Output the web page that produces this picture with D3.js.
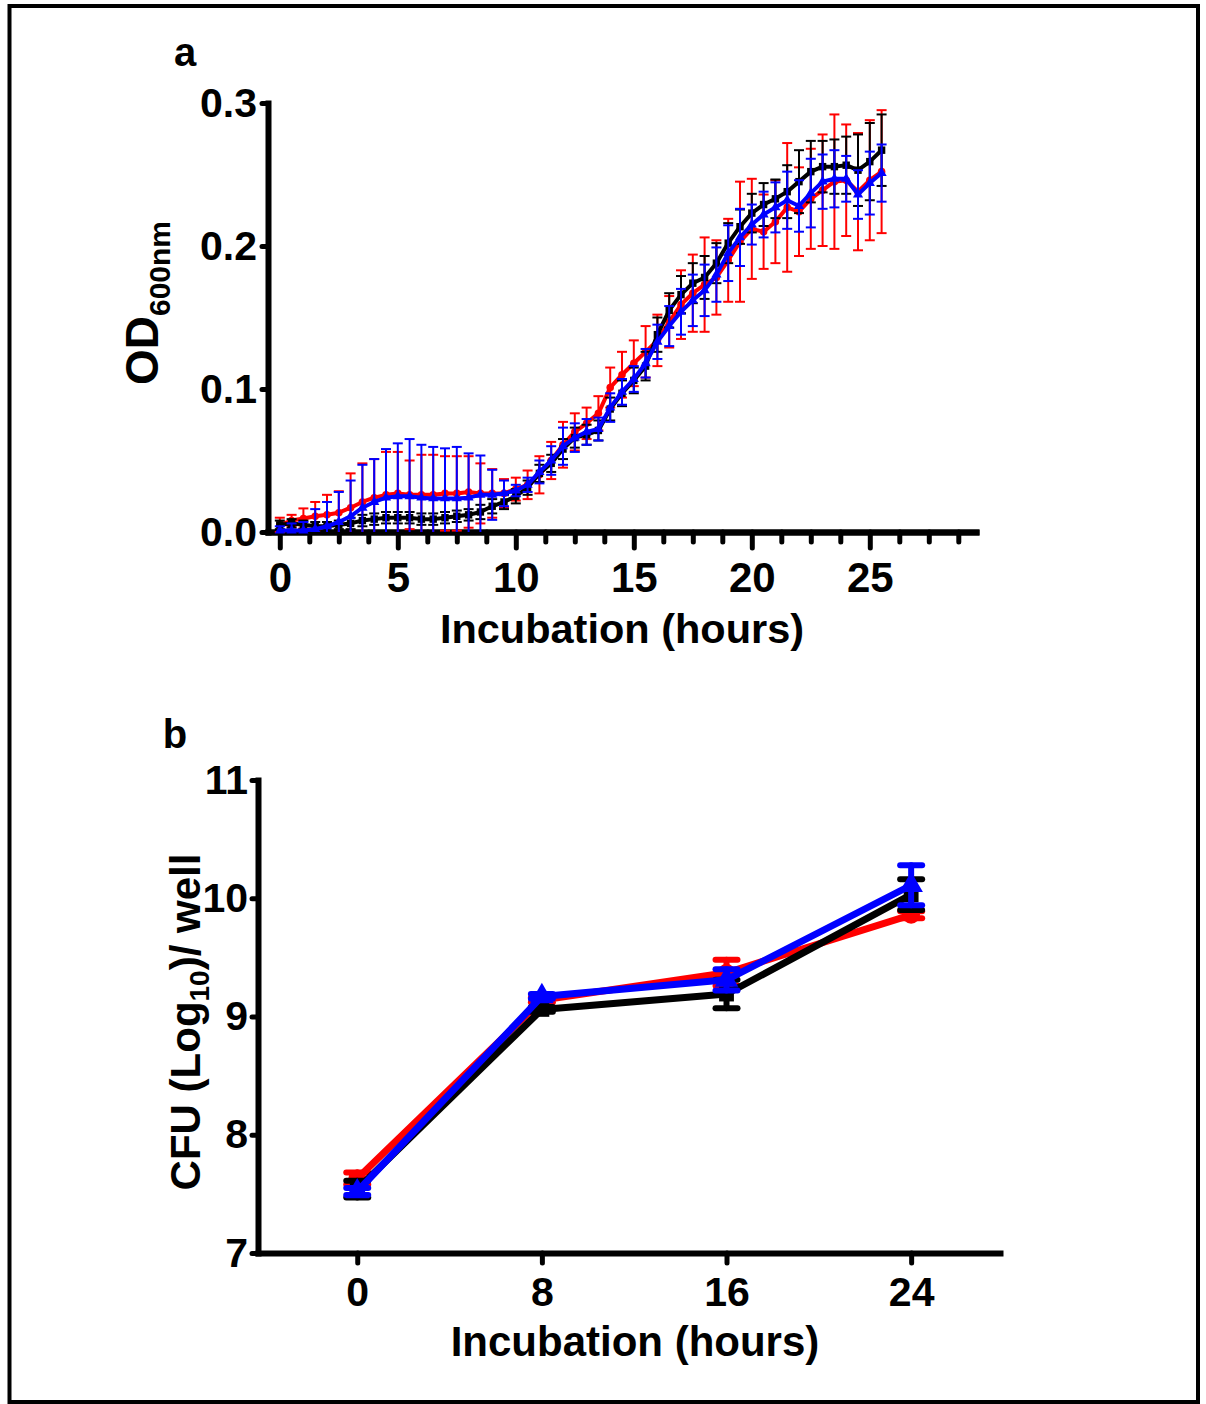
<!DOCTYPE html>
<html>
<head>
<meta charset="utf-8">
<script src="https://cdn.jsdelivr.net/npm/d3@7"></script>
<style>
  body { margin: 0; background: #fff; }
  svg text { font-family: "Liberation Sans", Arial, sans-serif; font-weight: bold; fill: #000; }
</style>
</head>
<body>
<svg id="fig" width="1206" height="1404"></svg>
<script>
// ---- panel a: OD600 readings every 30 min ----
const hoursA = [0, 0.5, 1, 1.5, 2, 2.5, 3, 3.5, 4, 4.5, 5, 5.5, 6, 6.5, 7, 7.5, 8, 8.5, 9, 9.5,
  10, 10.5, 11, 11.5, 12, 12.5, 13, 13.5, 14, 14.5, 15, 15.5, 16, 16.5, 17, 17.5, 18, 18.5, 19, 19.5,
  20, 20.5, 21, 21.5, 22, 22.5, 23, 23.5, 24, 24.5, 25, 25.5];

const redA = [0.005, 0.008, 0.0095, 0.011, 0.012, 0.0135, 0.017, 0.021, 0.024, 0.026, 0.027, 0.026, 0.026, 0.026, 0.027, 0.027, 0.028, 0.027, 0.027, 0.027,
  0.030, 0.033, 0.040, 0.050, 0.061, 0.070, 0.076, 0.083, 0.101, 0.110, 0.118, 0.126, 0.134, 0.147, 0.159, 0.167, 0.173, 0.178, 0.190, 0.203,
  0.212, 0.210, 0.217, 0.227, 0.224, 0.233, 0.239, 0.245, 0.246, 0.238, 0.246, 0.252];
const redSdA = [0.005, 0.004, 0.007, 0.010, 0.014, 0.015, 0.024, 0.027, 0.027, 0.030, 0.029, 0.024, 0.028, 0.028, 0.026, 0.026, 0.025, 0.021, 0.017, 0.010,
  0.008, 0.010, 0.013, 0.013, 0.016, 0.013, 0.011, 0.012, 0.014, 0.016, 0.016, 0.018, 0.018, 0.018, 0.024, 0.027, 0.033, 0.026, 0.029, 0.042,
  0.035, 0.026, 0.029, 0.045, 0.031, 0.035, 0.039, 0.047, 0.039, 0.041, 0.042, 0.043];

const blackA = [0.005, 0.006, 0.005, 0.004, 0.004, 0.005, 0.006, 0.008, 0.009, 0.010, 0.010, 0.010, 0.009, 0.009, 0.010, 0.011, 0.012, 0.014, 0.018, 0.021,
  0.025, 0.031, 0.041, 0.048, 0.058, 0.066, 0.068, 0.071, 0.086, 0.097, 0.106, 0.116, 0.138, 0.155, 0.166, 0.174, 0.178, 0.188, 0.202, 0.2135,
  0.223, 0.229, 0.233, 0.238, 0.245, 0.252, 0.2555, 0.2555, 0.2565, 0.253, 0.259, 0.267];
const blackSdA = [0.003, 0.003, 0.003, 0.003, 0.003, 0.003, 0.004, 0.004, 0.004, 0.004, 0.004, 0.004, 0.004, 0.004, 0.004, 0.004, 0.004, 0.005, 0.005, 0.005,
  0.005, 0.005, 0.006, 0.006, 0.007, 0.007, 0.007, 0.007, 0.008, 0.009, 0.009, 0.010, 0.012, 0.012, 0.013, 0.014, 0.015, 0.014, 0.014, 0.012,
  0.0135, 0.015, 0.0135, 0.0185, 0.022, 0.0215, 0.018, 0.019, 0.020, 0.025, 0.027, 0.025];

const blueA = [0.001, 0.001, 0.001, 0.002, 0.004, 0.007, 0.011, 0.017, 0.021, 0.024, 0.025, 0.025, 0.024, 0.0235, 0.0235, 0.0235, 0.024, 0.026, 0.026, 0.027,
  0.029, 0.033, 0.042, 0.050, 0.060, 0.066, 0.070, 0.072, 0.087, 0.098, 0.107, 0.118, 0.133, 0.144, 0.154, 0.162, 0.169, 0.180, 0.195, 0.206,
  0.215, 0.222, 0.227, 0.232, 0.228, 0.237, 0.245, 0.247, 0.247, 0.236, 0.244, 0.251];
const blueSdA = [0.003, 0.005, 0.006, 0.014, 0.017, 0.021, 0.025, 0.030, 0.030, 0.034, 0.037, 0.040, 0.037, 0.036, 0.035, 0.036, 0.031, 0.0275, 0.0175, 0.009,
  0.004, 0.005, 0.008, 0.010, 0.013, 0.010, 0.009, 0.008, 0.010, 0.009, 0.009, 0.010, 0.012, 0.014, 0.016, 0.018, 0.018, 0.019, 0.0195, 0.020,
  0.014, 0.016, 0.0175, 0.020, 0.018, 0.024, 0.019, 0.020, 0.016, 0.017, 0.022, 0.020];

const xTicksA = [0, 5, 10, 15, 20, 25];
const yTicksA = [0, 0.1, 0.2, 0.3];

// ---- panel b: CFU counts ----
const hoursB = [0, 8, 16, 24];
const redB = [7.63, 9.14, 9.37, 9.86];
const redSdB = [0.05, 0.02, 0.11, 0.03];
const blackB = [7.54, 9.06, 9.19, 10.03];
const blackSdB = [0.07, 0.02, 0.12, 0.13];
const blueB = [7.52, 9.17, 9.31, 10.11];
const blueSdB = [0.03, 0.02, 0.09, 0.17];
const xTicksB = [0, 8, 16, 24];
const yTicksB = [7, 8, 9, 10, 11];

const RED = "#ff0000", BLACK = "#000000", BLUE = "#0000ff";

const svg = d3.select("#fig");

// outer frame
svg.append("rect")
  .attr("x", 9.5).attr("y", 6).attr("width", 1188.5).attr("height", 1396)
  .attr("fill", "none").attr("stroke", "#000").attr("stroke-width", 4);

const styleAxis = (g, fs) => {
  g.select(".domain").attr("stroke-width", 6).attr("stroke-linecap", "square");
  g.selectAll(".tick line").attr("stroke-width", 5).attr("stroke-linecap", "round");
  g.selectAll(".tick text").attr("font-size", fs).attr("font-family", null);
  g.attr("font-family", null).attr("font-size", null);
};

function drawSeries(g, x, y, hours, mean, sd, color, shape, o) {
  const pts = hours.map((h, i) => ({ h: h, m: mean[i], s: sd[i] }));
  const [lo0, hi0] = y.domain();
  const s = g.append("g");
  const eb = s.append("g").attr("stroke", color).attr("stroke-width", o.ebw).attr("stroke-linecap", o.cap);
  pts.forEach(p => {
    const lo = Math.max(lo0, p.m - p.s), hi = Math.min(hi0, p.m + p.s);
    const cx = x(p.h);
    eb.append("line").attr("x1", cx).attr("x2", cx).attr("y1", y(lo)).attr("y2", y(hi));
    if (p.m - p.s >= lo0) eb.append("line").attr("x1", cx - o.capw / 2).attr("x2", cx + o.capw / 2).attr("y1", y(lo)).attr("y2", y(lo));
    eb.append("line").attr("x1", cx - o.capw / 2).attr("x2", cx + o.capw / 2).attr("y1", y(hi)).attr("y2", y(hi));
  });
  s.append("path").datum(pts)
    .attr("d", d3.line().x(d => x(d.h)).y(d => y(d.m)))
    .attr("fill", "none").attr("stroke", color).attr("stroke-width", o.lw).attr("stroke-linejoin", "round");
  s.selectAll("path.mk").data(pts).join("path").attr("class", "mk")
    .attr("transform", d => `translate(${x(d.h)},${y(d.m)})`)
    .attr("d", d3.symbol().type(shape).size(o.ms))
    .attr("fill", color);
}

// ================= panel a =================
const xA = d3.scaleLinear().domain([-0.5, 29.5]).range([268, 976]);
const yA = d3.scaleLinear().domain([0, 0.3]).range([532, 103]);
const gA = svg.append("g");

const minorA = d3.range(0, 29, 1.25).filter(v => v % 5 !== 0);
gA.append("g").attr("transform", "translate(0,532)")
  .call(d3.axisBottom(xA).tickValues(minorA).tickSize(10).tickSizeOuter(0).tickFormat(""))
  .call(g => styleAxis(g, 42));
gA.append("g").attr("transform", "translate(0,532)")
  .call(d3.axisBottom(xA).tickValues(xTicksA).tickSize(16).tickSizeOuter(0).tickPadding(14).tickFormat(d3.format("d")))
  .call(g => styleAxis(g, 42));
gA.append("g").attr("transform", "translate(268,0)")
  .call(d3.axisLeft(yA).tickValues(yTicksA).tickSize(6).tickSizeOuter(0).tickPadding(5).tickFormat(d3.format(".1f")))
  .call(g => styleAxis(g, 41));

const plotA = gA.append("g");
drawSeries(plotA, xA, yA, hoursA, redA, redSdA, RED, d3.symbolCircle, { ebw: 2, capw: 10, cap: "butt", lw: 4, ms: 45 });
drawSeries(plotA, xA, yA, hoursA, blackA, blackSdA, BLACK, d3.symbolSquare, { ebw: 2, capw: 10, cap: "butt", lw: 4, ms: 55 });
drawSeries(plotA, xA, yA, hoursA, blueA, blueSdA, BLUE, d3.symbolTriangle, { ebw: 2, capw: 10, cap: "butt", lw: 4, ms: 45 });

gA.append("text").attr("x", 185).attr("y", 66).attr("text-anchor", "middle").attr("font-size", 40).text("a");
gA.append("text").attr("x", 622).attr("y", 643).attr("text-anchor", "middle").attr("font-size", 41.5).text("Incubation (hours)");
const tA = gA.append("text").attr("transform", "translate(158,303) rotate(-90)").attr("text-anchor", "middle").attr("font-size", 46);
tA.append("tspan").text("OD");
tA.append("tspan").attr("font-size", 30).attr("dy", 12).text("600nm");

// ================= panel b =================
const xB = d3.scaleLinear().domain([-4.3, 27.85]).range([258, 1000]);
const yB = d3.scaleLinear().domain([7, 11]).range([1253, 780]);
const gB = svg.append("g");

gB.append("g").attr("transform", "translate(0,1253)")
  .call(d3.axisBottom(xB).tickValues(xTicksB).tickSize(10).tickSizeOuter(0).tickPadding(14).tickFormat(d3.format("d")))
  .call(g => styleAxis(g, 41));
gB.append("g").attr("transform", "translate(258,0)")
  .call(d3.axisLeft(yB).tickValues(yTicksB).tickSize(6).tickSizeOuter(0).tickPadding(4).tickFormat(d3.format("d")))
  .call(g => styleAxis(g, 41));

const plotB = gB.append("g");
drawSeries(plotB, xB, yB, hoursB, redB, redSdB, RED, d3.symbolCircle, { ebw: 6, capw: 22, cap: "round", lw: 7, ms: 250 });
drawSeries(plotB, xB, yB, hoursB, blackB, blackSdB, BLACK, d3.symbolSquare, { ebw: 6, capw: 22, cap: "round", lw: 7, ms: 220 });
drawSeries(plotB, xB, yB, hoursB, blueB, blueSdB, BLUE, d3.symbolTriangle, { ebw: 6, capw: 22, cap: "round", lw: 7, ms: 240 });

gB.append("text").attr("x", 175).attr("y", 748).attr("text-anchor", "middle").attr("font-size", 40).text("b");
gB.append("text").attr("x", 635).attr("y", 1356).attr("text-anchor", "middle").attr("font-size", 42).text("Incubation (hours)");
const tB = gB.append("text").attr("transform", "translate(200,1022) rotate(-90)").attr("text-anchor", "middle").attr("font-size", 42);
tB.append("tspan").text("CFU (Log");
tB.append("tspan").attr("font-size", 28).attr("dy", 9).text("10");
tB.append("tspan").attr("dy", -9).text(")/ well");
</script>
</body>
</html>
